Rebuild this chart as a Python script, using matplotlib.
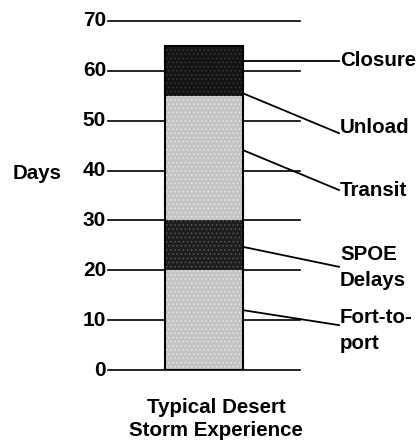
import matplotlib.pyplot as plt

plt.rcParams['font.family'] = ['Liberation Sans', 'DejaVu Sans']
plt.rcParams['font.weight'] = 'bold'
plt.rcParams['hatch.linewidth'] = 0.6

# Stacked segments (days), bottom to top
segments = ["Fort-to-port", "SPOE Delays", "Transit", "Unload", "Closure"]
days = [20, 10, 25, 5, 5]
shades = ['#c4c4c4', '#1e1e1e', '#c4c4c4', '#141414', '#141414']
stipple = ['#e6e6e6', '#5a5a5a', '#e6e6e6', '#3a3a3a', '#3a3a3a']

yticks = [0, 10, 20, 30, 40, 50, 60, 70]

# label texts and pointer anchors (start on bar, end at label) in days
labels = ["Closure", "Unload", "Transit", "SPOE\nDelays", "Fort-to-\nport"]
ptr_from = [62.0, 55.5, 44.1, 24.7, 12.0]
ptr_to = [62.0, 47.5, 36.1, 20.7, 9.0]
label_y = [62.0, 48.7, 36.1, 20.6, 8.0]

fig = plt.figure(figsize=(4.2, 4.48), dpi=100)
ax = fig.add_axes([108 / 420, 78 / 448, 192 / 420, 349 / 448])
ax.set_xlim(0, 1)
ax.set_ylim(0, 70)
ax.axis('off')

for t in yticks:
    ax.plot([0, 1], [t, t], color='black', lw=1.2, zorder=1, clip_on=False)
    ax.text(-0.01, t, str(t), ha='right', va='center', fontsize=15, fontweight='bold')

bottom = 0
for d, c, s in zip(days, shades, stipple):
    ax.bar(0.5, d, width=0.406, bottom=bottom, color=c, edgecolor='none', zorder=2)
    ax.bar(0.5, d, width=0.406, bottom=bottom, facecolor='none', edgecolor=s,
           hatch='....', lw=0, zorder=2.5)
    bottom += d
ax.bar(0.5, sum(days), width=0.406, bottom=0, facecolor='none', edgecolor='black',
       lw=1.5, zorder=3)

bar_right = 0.5 + 0.406 / 2
x_end = 1.203
for lab, y0, y1, ly in zip(labels, ptr_from, ptr_to, label_y):
    ax.plot([bar_right, x_end], [y0, y1], color='black', lw=1.3, zorder=4, clip_on=False)
    ax.text(x_end + 0.005, ly, lab, ha='left', va='center', fontsize=14.8,
            fontweight='bold', linespacing=1.48)

ax.text(-0.37, 39.5, "Days", ha='center', va='center', fontsize=14.8, fontweight='bold')
ax.text(0.562, -9.8, "Typical Desert\nStorm Experience", ha='center', va='center',
        fontsize=14.8, fontweight='bold', linespacing=1.3)

fig.savefig('out.png', dpi=100)
